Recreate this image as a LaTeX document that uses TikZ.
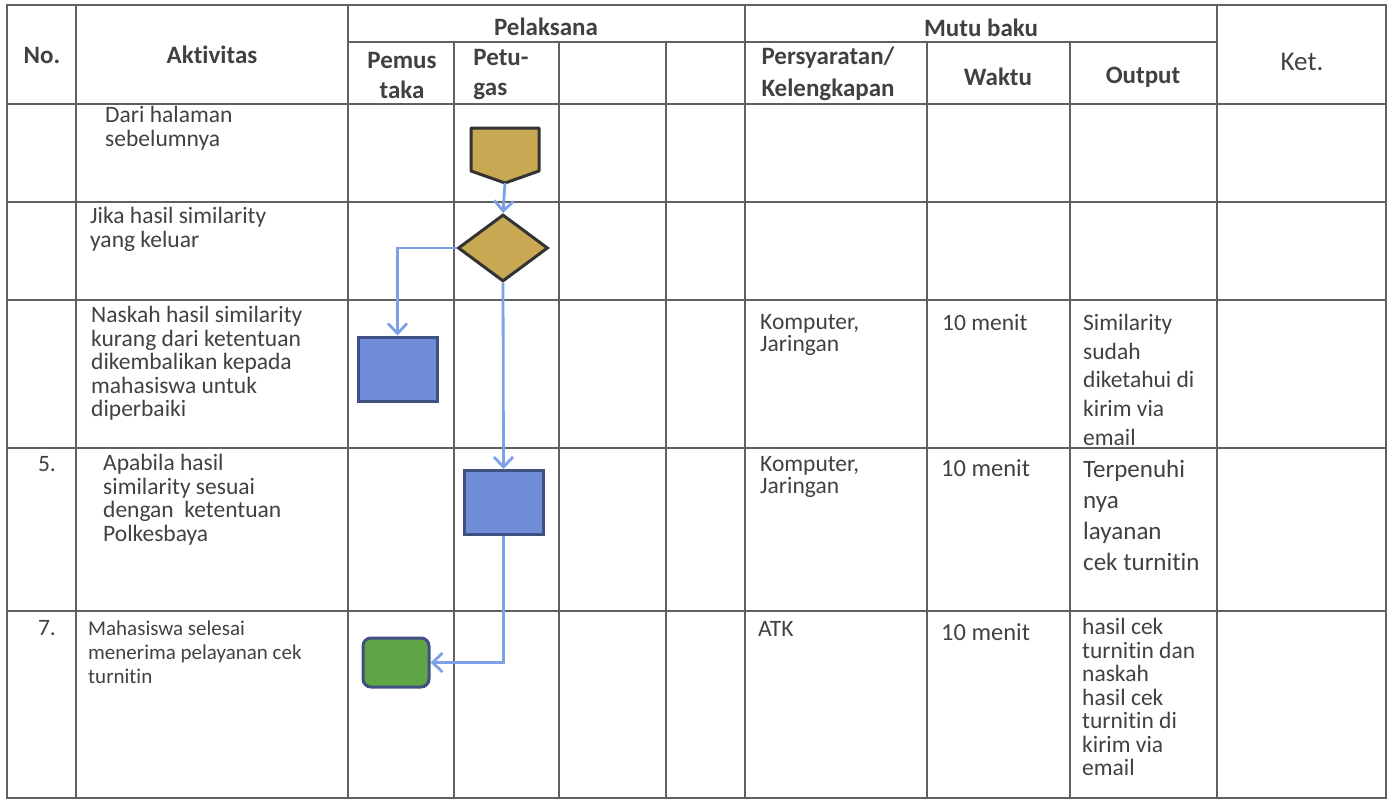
\documentclass[tikz,border=0pt]{standalone}
\usepackage{fontspec}
\setmainfont{Carlito}[Ligatures=NoCommon]
\usetikzlibrary{arrows.meta,shapes.geometric}

\definecolor{gridline}{RGB}{95,95,100}
\definecolor{inktext}{RGB}{65,65,65}
\definecolor{goldfill}{RGB}{200,168,82}
\definecolor{bluefill}{RGB}{110,140,215}
\definecolor{greenfill}{RGB}{95,165,70}
\definecolor{flowblue}{RGB}{125,160,230}
\definecolor{edgeblue}{RGB}{65,80,130}

\tikzset{
  tablerule/.style={draw=gridline,line width=1.2pt},
  head/.style={font=\bfseries\fontsize{25}{30}\selectfont,text=inktext,align=center,inner sep=0pt},
  cell/.style={font=\fontsize{23.5}{23.5}\selectfont,text=inktext,align=left,anchor=north west,inner sep=0pt},
  smallcell/.style={cell,font=\fontsize{21}{24}\selectfont},
  process/.style={draw=edgeblue,line width=3pt,fill=bluefill,minimum width=79pt,minimum height=64pt,inner sep=0pt},
  decision/.style={draw=black!80,line width=3pt,fill=goldfill,shape=diamond,minimum width=90pt,minimum height=67pt,inner sep=0pt},
  finish/.style={draw=edgeblue,line width=3pt,fill=greenfill,rounded corners=8pt,minimum width=66pt,minimum height=49pt,inner sep=0pt},
  flow/.style={draw=flowblue,line width=2.8pt,-{Straight Barb[length=10pt,width=19pt]}}
}

\begin{document}
\begin{tikzpicture}[x=1pt,y=-1pt]
  \useasboundingbox (0,0) rectangle (1392,800);
  %%%%% TABLE %%%%%
  \draw[tablerule] (7,5) rectangle (1386,798);
  \draw[tablerule] (348,42) -- (1217,42);
  \foreach \y in {104,202,300,448,611}
    \draw[tablerule] (7,\y) -- (1386,\y);
  \foreach \x in {76,348,745,1217}
    \draw[tablerule] (\x,5) -- (\x,798);
  \foreach \x in {454,559,666,927,1070}
    \draw[tablerule] (\x,42) -- (\x,798);

  %%%%% HEADER %%%%%
  \node[head] (hno) at (42,55) {No.};
  \node[head] (hakt) at (212,55) {Aktivitas};
  \node[head] (hpel) at (546,27) {Pelaksana};
  \node[head] (hpemus) at (402,75) {Pemus\\taka};
  \node[head,align=left] (hpetu) at (501,75) {Petu-\\gas};
  \node[head,font=\bfseries\fontsize{25}{32}\selectfont] (hpers) at (828,74) {Persyaratan/\\Kelengkapan};
  \node[head] (hmutu) at (981,28) {Mutu baku};
  \node[head] (hwaktu) at (998,77) {Waktu};
  \node[head] (hout) at (1143,77) {Output};
  \node[head,font=\fontsize{27}{30}\selectfont] (hket) at (1302,62) {Ket.};

  %%%%% ROWS %%%%%
  \node[cell] (akt1) at (105,106) {Dari halaman\\sebelumnya};
  \node[cell] (akt2) at (90,207) {Jika hasil similarity\\yang keluar};
  \node[cell] (akt3) at (91,306) {Naskah hasil similarity\\kurang dari ketentuan\\dikembalikan kepada\\mahasiswa untuk\\diperbaiki};
  \node[cell,anchor=north] (no5) at (47,456) {5.};
  \node[cell] (akt5) at (103,454) {Apabila hasil\\similarity sesuai\\dengan\ \ ketentuan\\Polkesbaya};
  \node[cell,anchor=north] (no7) at (47,620) {7.};
  \node[smallcell] (akt7) at (88,621) {Mahasiswa selesai\\menerima pelayanan cek\\turnitin};

  \node[cell,font=\fontsize{23.5}{22.5}\selectfont] (pers3) at (760,314) {Komputer,\\Jaringan};
  \node[cell] (waktu3) at (942,314) {10 menit};
  \node[cell,font=\fontsize{23.5}{28.7}\selectfont] (out3) at (1083,314) {Similarity\\sudah\\diketahui di\\kirim via\\email};
  \node[cell,font=\fontsize{23.5}{22.5}\selectfont] (pers5) at (760,456) {Komputer,\\Jaringan};
  \node[cell,font=\fontsize{24.5}{24}\selectfont] (waktu5) at (941,459) {10 menit};
  \node[cell,font=\fontsize{25}{31}\selectfont] (out5) at (1083,460) {Terpenuhi\\nya\\layanan\\cek turnitin};
  \node[cell] (pers7) at (758,621) {ATK};
  \node[cell,font=\fontsize{24.5}{24}\selectfont] (waktu7) at (941,623) {10 menit};
  \node[cell] (out7) at (1082,618) {hasil cek\\turnitin dan\\naskah\\hasil cek\\turnitin di\\kirim via\\email};

  %%%%% FLOW %%%%%
  \draw[draw=black!80,line width=3pt,fill=goldfill,line join=round]
    (471,128) -- (539,128) -- (539,171) -- (505,183) -- (471,171) -- cycle;
  \coordinate (offpage) at (505,183);
  \node[decision] (cek) at (503,248) {};
  \node[process] (kembali) at (397.5,369) {};
  \node[process] (sesuai) at (503.5,502.5) {};
  \node[finish] (selesai) at (396,662.5) {};

  \draw[flow] (offpage) -- (cek.north);
  \draw[flow] (cek.west) -| (kembali.north);
  \draw[flow] (cek.south) -- (sesuai.north);
  \draw[flow] (sesuai.south) |- (selesai.east);
\end{tikzpicture}
\end{document}
